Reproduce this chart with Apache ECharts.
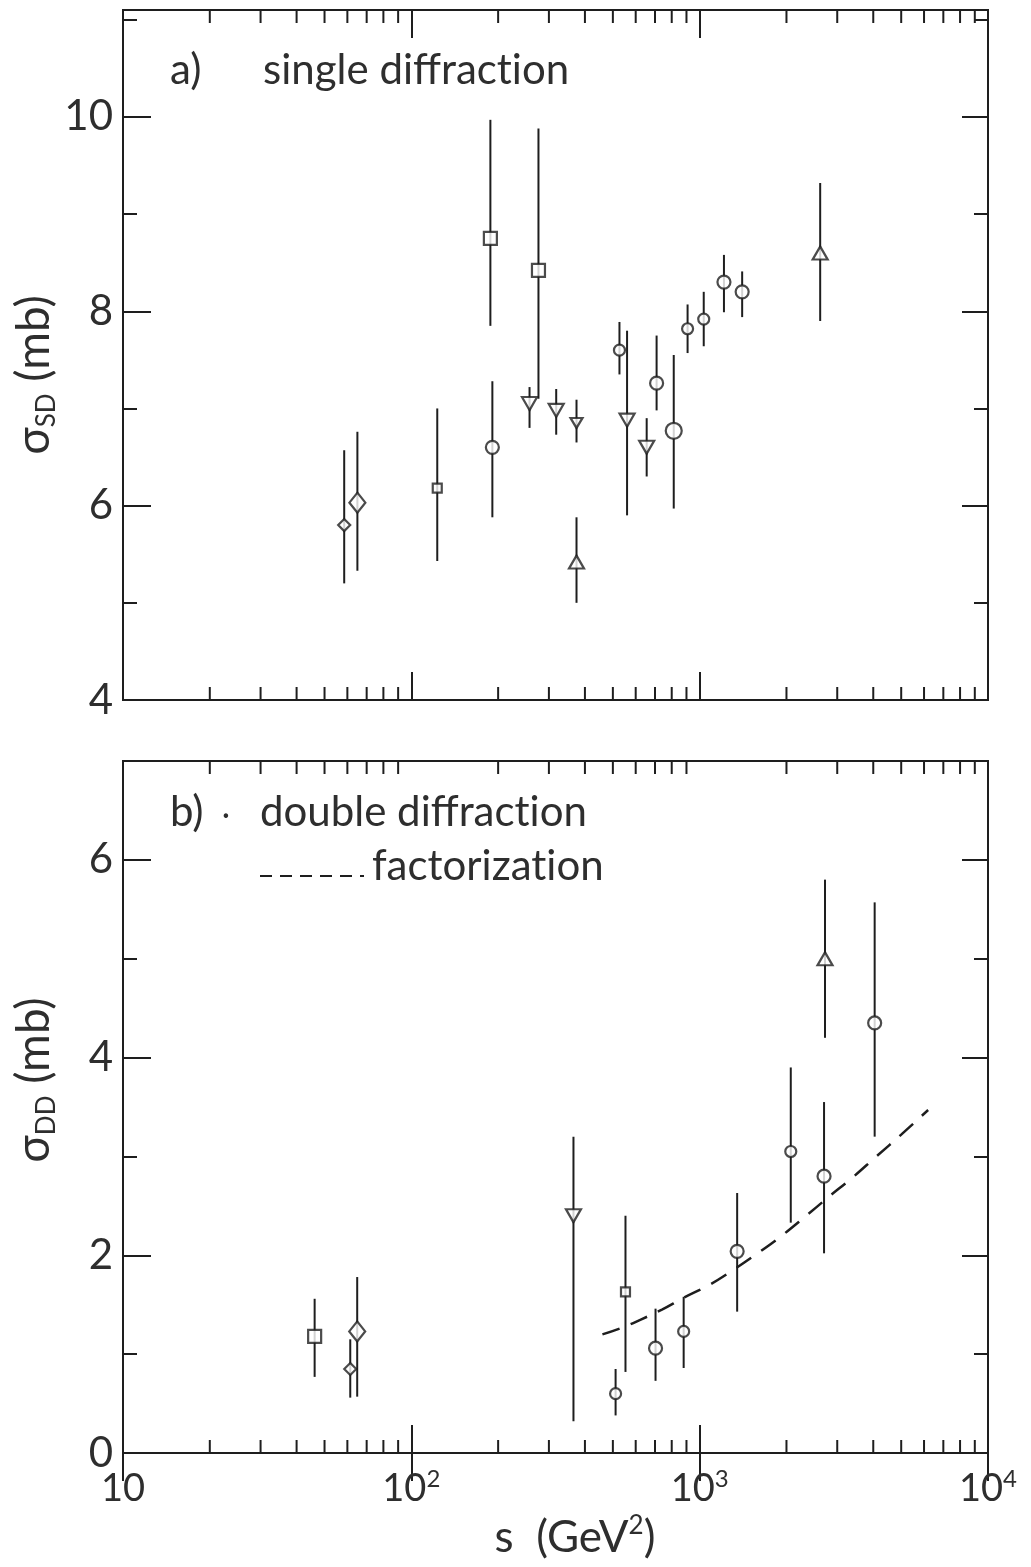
<!DOCTYPE html>
<html>
<head>
<meta charset="utf-8">
<title>single and double diffraction cross sections</title>
<script src="https://cdn.jsdelivr.net/npm/echarts@6/dist/echarts.min.js"></script>
<style>
  html, body { margin: 0; padding: 0; background: #fff; }
  #chart { width: 1031px; height: 1567px; }
</style>
</head>
<body>
<div id="chart"></div>
<script>
// s axis (GeV^2), log scale
const xTickLabels = ['10', '10^2', '10^3', '10^4']
const xMinorTicks = [20, 30, 40, 50, 60, 70, 80, 90,
  200, 300, 400, 500, 600, 700, 800, 900,
  2000, 3000, 4000, 5000, 6000, 7000, 8000, 9000]

// a) single diffraction, sigma_SD (mb)
const sdS = [58.5, 65, 123, 188, 191, 276, 257, 318, 374, 374, 527, 560, 709, 655, 813, 908, 1033, 1214, 1404, 2618]
const sdVal = [5.80, 6.03, 6.18, 8.75, 6.60, 8.42, 7.05, 6.98, 6.85, 5.42, 7.60, 6.88, 7.26, 6.60, 6.77, 7.82, 7.92, 8.30, 8.20, 8.60]
const sdLow = [5.20, 5.33, 5.43, 7.85, 5.88, 7.10, 6.80, 6.73, 6.65, 5.00, 7.35, 5.90, 6.98, 6.30, 5.97, 7.57, 7.64, 7.99, 7.94, 7.90]
const sdHigh = [6.57, 6.76, 7.00, 9.97, 7.28, 9.88, 7.22, 7.20, 7.09, 5.88, 7.89, 7.80, 7.75, 6.90, 7.55, 8.07, 8.20, 8.58, 8.41, 9.32]
const sdMark = ['diamondS', 'diamond', 'squareS', 'square', 'circle', 'square', 'triDown', 'triDown', 'triDownS', 'triUp',
  'circleS', 'triDown', 'circle', 'triDown', 'circleL', 'circleS', 'circleS', 'circle', 'circle', 'triUp']

// b) double diffraction, sigma_DD (mb)
const ddS = [46.2, 61.4, 64.9, 365, 511, 553, 703, 880, 1349, 2070, 2721, 2700, 4045]
const ddVal = [1.18, 0.85, 1.23, 2.40, 0.60, 1.63, 1.06, 1.23, 2.04, 3.05, 5.00, 2.80, 4.35]
const ddLow = [0.77, 0.56, 0.57, 0.32, 0.38, 0.82, 0.73, 0.86, 1.43, 2.33, 4.20, 2.02, 3.20]
const ddHigh = [1.56, 1.15, 1.78, 3.20, 0.85, 2.40, 1.46, 1.58, 2.63, 3.90, 5.80, 3.55, 5.57]
const ddMark = ['square', 'diamondS', 'diamond', 'triDown', 'circleS', 'squareS', 'circle', 'circleS', 'circle', 'circleS', 'triUp', 'circle', 'circle']

// factorization curve
const facS = [460, 540, 625, 740, 880, 1080, 1290, 1570, 1910, 2320, 2800, 3400, 4100, 5000, 6200]
const facVal = [1.20, 1.27, 1.35, 1.45, 1.57, 1.70, 1.84, 2.01, 2.19, 2.39, 2.59, 2.79, 3.00, 3.22, 3.47]

const INK = '#1e1e1e'
const TXT = '#2e2e2e'
const FONT = 'Lato, "DejaVu Sans", sans-serif'
const ZW = '\u200C' // keeps "ti" from joining into a ligature

const markers = {
  circle: { symbol: 'circle', size: 13 },
  circleS: { symbol: 'circle', size: 11 },
  circleL: { symbol: 'circle', size: 16 },
  square: { symbol: 'rect', size: 13 },
  squareS: { symbol: 'rect', size: 9 },
  diamond: { symbol: 'diamond', size: [16, 20] },
  diamondS: { symbol: 'diamond', size: [12, 12] },
  triUp: { symbol: 'triangle', size: [15, 13] },
  triDown: { symbol: 'triangle', size: [15, 13], rotate: 180 },
  triDownS: { symbol: 'triangle', size: [12, 10], rotate: 180 }
}

const chart = echarts.init(document.getElementById('chart'))

function xAxes(gridIndex, showLabels) {
  const base = {
    type: 'log', logBase: 10, gridIndex, min: 10, max: 10000,
    splitLine: { show: false },
    axisLine: { show: false },
    axisTick: { inside: true, length: 28, lineStyle: { color: INK, width: 2 } }
  }
  return [
    {
      ...base,
      position: 'bottom',
      axisLabel: {
        show: showLabels,
        margin: 14,
        formatter: v => {
          const parts = xTickLabels[Math.round(Math.log10(v)) - 1].split('^')
          return '{n|' + parts[0] + '}' + (parts[1] ? '{sup|' + parts[1] + '}' : '')
        },
        rich: {
          n: { fontFamily: FONT, fontSize: 38, color: TXT, lineHeight: 44 },
          sup: { fontFamily: FONT, fontSize: 24, color: TXT, lineHeight: 24, verticalAlign: 'top' }
        }
      }
    },
    { ...base, position: 'top', axisLabel: { show: false } }
  ]
}

function yAxes(gridIndex, min, max) {
  const base = {
    type: 'value', gridIndex, min, max,
    splitLine: { show: false },
    axisLine: { show: false }
  }
  const tick = len => ({ inside: true, length: len, lineStyle: { color: INK, width: 2 } })
  return [
    {
      ...base, position: 'left', interval: 2, axisTick: tick(28),
      axisLabel: {
        margin: 10, fontFamily: FONT, fontSize: 42, color: TXT, showMaxLabel: false,
        formatter: v => (v % 2 === 0 ? String(v) : '')
      }
    },
    { ...base, position: 'left', interval: 1, axisTick: tick(14), axisLabel: { show: false } },
    { ...base, position: 'right', interval: 2, axisTick: tick(26), axisLabel: { show: false } },
    { ...base, position: 'right', interval: 1, axisTick: tick(14), axisLabel: { show: false } }
  ]
}

function minorTickSeries(g, yMin, yMax) {
  return {
    type: 'custom', xAxisIndex: g * 2, yAxisIndex: g * 4, silent: true, z: 1,
    data: xMinorTicks.map(v => [v, yMin, yMax]),
    renderItem(params, api) {
      const lo = api.coord([api.value(0), api.value(1)])
      const hi = api.coord([api.value(0), api.value(2)])
      const style = { stroke: INK, lineWidth: 2 }
      return {
        type: 'group',
        children: [
          { type: 'line', shape: { x1: lo[0], y1: lo[1], x2: lo[0], y2: lo[1] - 13 }, style },
          { type: 'line', shape: { x1: hi[0], y1: hi[1], x2: hi[0], y2: hi[1] + 13 }, style }
        ]
      }
    }
  }
}

function errorBarSeries(g, s, lo, hi) {
  return {
    type: 'custom', xAxisIndex: g * 2, yAxisIndex: g * 4, silent: true, z: 2,
    data: s.map((x, i) => [x, lo[i], hi[i]]),
    renderItem(params, api) {
      const a = api.coord([api.value(0), api.value(1)])
      const b = api.coord([api.value(0), api.value(2)])
      return {
        type: 'line',
        shape: { x1: a[0], y1: a[1], x2: b[0], y2: b[1] },
        style: { stroke: INK, lineWidth: 2 }
      }
    }
  }
}

function pointSeries(g, s, val, mark) {
  return {
    type: 'scatter', xAxisIndex: g * 2, yAxisIndex: g * 4, z: 3,
    itemStyle: { color: '#fff', borderColor: INK, borderWidth: 2.2 },
    data: s.map((x, i) => {
      const m = markers[mark[i]]
      return { value: [x, val[i]], symbol: m.symbol, symbolSize: m.size, symbolRotate: m.rotate || 0 }
    })
  }
}

function yTitle(y, sub) {
  return {
    type: 'text', x: 34, y, rotation: Math.PI / 2,
    style: {
      text: '{g|σ}{sub|' + sub + '}{g| (mb)}', fill: TXT, textAlign: 'center', textVerticalAlign: 'middle',
      rich: {
        g: { fontFamily: FONT, fontSize: 46, lineHeight: 52, fill: TXT },
        sub: { fontFamily: FONT, fontSize: 26, lineHeight: 26, verticalAlign: 'bottom', fill: TXT }
      }
    }
  }
}

function label(x, y, text, size) {
  return { type: 'text', x, y, style: { text, font: (size || 42) + 'px ' + FONT, fill: TXT, textVerticalAlign: 'middle' } }
}

const sdMin = 4, sdMax = 11.1
const ddMin = 0, ddMax = 7

chart.setOption({
  backgroundColor: '#fff',
  animation: false,
  grid: [
    { left: 123, right: 43, top: 10, height: 690, show: true, borderColor: INK, borderWidth: 2 },
    { left: 123, right: 43, top: 761, height: 692, show: true, borderColor: INK, borderWidth: 2 }
  ],
  xAxis: [...xAxes(0, false), ...xAxes(1, true)],
  yAxis: [...yAxes(0, sdMin, sdMax), ...yAxes(1, ddMin, ddMax)],
  series: [
    minorTickSeries(0, sdMin, sdMax),
    minorTickSeries(1, ddMin, ddMax),
    errorBarSeries(0, sdS, sdLow, sdHigh),
    errorBarSeries(1, ddS, ddLow, ddHigh),
    pointSeries(0, sdS, sdVal, sdMark),
    pointSeries(1, ddS, ddVal, ddMark),
    {
      type: 'line', xAxisIndex: 2, yAxisIndex: 4, z: 2,
      smooth: 0.4, symbol: 'none',
      lineStyle: { color: INK, width: 2.5, type: [18, 12] },
      data: facS.map((x, i) => [x, facVal[i]])
    }
  ],
  graphic: [
    label(170, 70, 'a)'),
    label(263, 70, 'single diffract' + ZW + 'ion'),
    label(170, 812, 'b)'),
    label(222, 815, '·', 30),
    label(260, 812, 'double diffract' + ZW + 'ion'),
    { type: 'line', shape: { x1: 260, y1: 876, x2: 364, y2: 876 }, style: { stroke: INK, lineWidth: 2, lineDash: [12, 8] } },
    label(372, 866, 'factorizat' + ZW + 'ion'),
    yTitle(375, 'SD'),
    yTitle(1080, 'DD'),
    {
      type: 'text', x: 575, y: 1538,
      style: {
        text: '{g|s  (GeV}{sup|2}{g|)}', fill: TXT, textAlign: 'center', textVerticalAlign: 'middle',
        rich: {
          g: { fontFamily: FONT, fontSize: 44, lineHeight: 50, fill: TXT },
          sup: { fontFamily: FONT, fontSize: 26, lineHeight: 26, verticalAlign: 'top', fill: TXT }
        }
      }
    }
  ]
})
</script>
</body>
</html>
